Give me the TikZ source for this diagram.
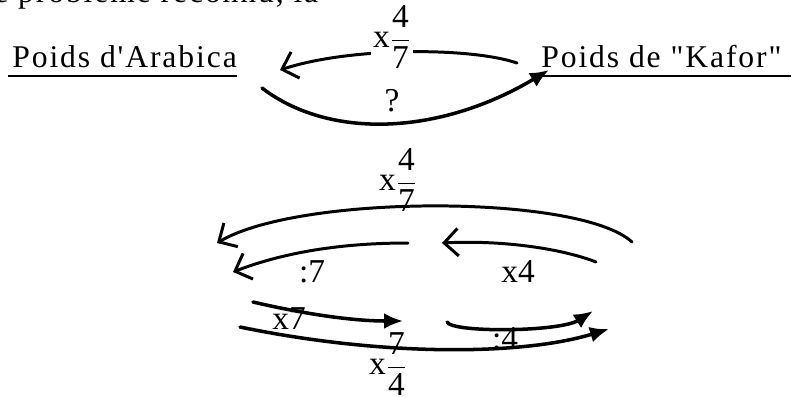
\documentclass[tikz,border=0pt]{standalone}
\usepackage{amsmath}
\usepackage{fontspec}
\setmainfont{Liberation Serif}
\newfontfamily\scanfont[LetterSpace=6]{Liberation Serif}
\usepackage{tikz}
\usetikzlibrary{arrows.meta}

\begin{document}
\begin{tikzpicture}[
    x=0.02cm, y=-0.02cm,
    heading/.style={font=\scanfont\fontsize{18}{20}\selectfont, inner xsep=0pt, inner ysep=0.16cm, anchor=base west},
    rule/.style={line width=1pt},
    lab/.style={font=\fontsize{19}{21}\selectfont, inner sep=1pt},
    back/.style={-{Straight Barb[length=2.8mm, width=5.5mm]}, line width=1.7pt, line cap=round},
    fwd/.style={-{Latex[length=3.8mm, width=3.2mm]}, line width=2pt, line cap=round}
]
\path[use as bounding box, clip] (0,0) rectangle (795,397);
\node[font=\scanfont\fontsize{18}{20}\selectfont, anchor=base west, inner sep=0pt] (cut) at (-6,2) {e problème reconnu, la};

\node[heading] (arab) at (12,67) {Poids d'Arabica};
\node[heading] (kafor) at (541,67) {Poids de "Kafor"};
\draw[rule] ([xshift=-2pt]arab.south west) -- (arab.south east);
\draw[rule] (kafor.south west) -- ([xshift=5pt]kafor.south east);

% premier schema
\coordinate (kt1) at (517,63);
\coordinate (at1) at (280,70);
\coordinate (at2) at (262,88);
\coordinate (kt2) at (549,70);
\draw[back] (kt1) .. controls (470,47) and (350,47) .. (at1);
\node[lab, fill=white] (q1) at (392,37) {x$\dfrac{\text{4}}{\text{7}}$};
\draw[fwd] (at2) .. controls (330,140) and (440,135) .. (kt2);
\node[lab] (q2) at (392,101) {?};

% second schema
\coordinate (r0) at (632,242);
\coordinate (l0) at (217,243);
\coordinate (m1) at (408,243);
\coordinate (l1) at (233,272);
\coordinate (r1) at (596,262);
\coordinate (m2) at (442,243);
\coordinate (l2) at (253,302);
\coordinate (m3) at (403,321);
\coordinate (m4) at (447,322);
\coordinate (r2) at (593,311);
\coordinate (l3) at (240,327);
\coordinate (r3) at (609,329);

\draw[back] (r0) .. controls (580,194) and (300,194) .. (l0);
\node[lab] (f47) at (398,180) {x$\dfrac{\text{4}}{\text{7}}$};
\draw[back] (m1) .. controls (350,243) and (290,250) .. (l1);
\node[lab] (d7) at (312,272) {:7};
\draw[back] (r1) .. controls (560,248) and (500,240) .. (m2);
\node[lab] (x4) at (518,272) {x4};
\draw[fwd] (l2) .. controls (300,313) and (350,321) .. (m3);
\node[lab] (x7) at (289,319) {x7};
\draw[fwd] (m4) .. controls (452,333) and (560,332) .. (r2);
\node[lab] (d4) at (505,339) {:4};
\draw[fwd] (l3) .. controls (380,356) and (520,356) .. (r3);
\node[lab, inner sep=0pt] (f74) at (388,364) {x$\dfrac{\text{7}}{\text{4}}$};
\end{tikzpicture}
\end{document}
